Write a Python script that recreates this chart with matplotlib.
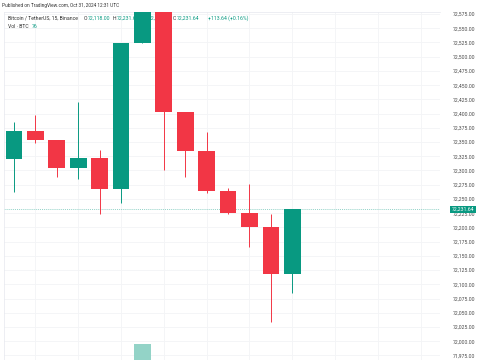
import matplotlib
matplotlib.use("Agg")
import matplotlib.pyplot as plt
import numpy as np

# 15-minute BTC/USDT candles (Binance)
opens  = [72319.6, 72369.4, 72353.0, 72303.8, 72322.0, 72267.0, 72524.0,
          72610.0, 72403.0, 72334.0, 72264.5, 72224.7, 72200.0, 72118.0]
highs  = [72385.0, 72397.5, 72353.0, 72419.8, 72336.0, 72524.0, 72640.0,
          72650.0, 72403.0, 72368.0, 72268.6, 72275.7, 72223.0, 72231.64]
lows   = [72262.7, 72347.7, 72289.0, 72284.5, 72223.0, 72243.4, 72524.0,
          72301.0, 72288.0, 72261.0, 72223.5, 72166.0, 72033.0, 72084.0]
closes = [72369.4, 72353.0, 72303.8, 72322.0, 72267.0, 72524.0, 72610.0,
          72403.0, 72334.0, 72264.5, 72224.7, 72200.0, 72118.0, 72231.64]
volumes = [60, 55, 70, 50, 65, 180, 420, 250, 120, 90, 80, 70, 110, 76]

price_ticks = list(range(71975, 72576, 25))
last_price = 72231.64

GREEN = '#089981'
RED = '#f23645'
GRID = '#f3f4f6'

plt.rcParams['font.family'] = ['Roboto', 'DejaVu Sans']
FS = 3.7

fig = plt.figure(figsize=(4.85, 3.6), dpi=100)
W, H = 485, 360
ax = fig.add_axes([4 / W, 0, 436 / W, 348 / H])

x = np.arange(len(opens))
colors = [GREEN if c >= o else RED for o, c in zip(opens, closes)]

# volume overlay (only the tallest bar reaches the visible area)
vax = ax.twinx()
vol_colors = ['#93d3c7' if c == GREEN else '#f7a9a9' for c in colors]
vax.bar(x, volumes, width=0.78, color=vol_colors, zorder=1)
vlo = 330
vax.set_ylim(vlo, vlo + (max(volumes) - vlo) * 348 / 16)
vax.axis('off')
ax.set_zorder(0)
vax.set_zorder(1)

# header legend (candles are drawn over it)
tr = fig.transFigure
def ftext(px, py, s, color, size=FS):
    ax.text(px / W, 1 - py / H, s, transform=tr, fontsize=size, color=color,
            va='center', ha='left', zorder=1)

ftext(2, 5, 'Published on TradingView.com, Oct 31, 2024 12:31 UTC', '#333333', 3.4)
ftext(8, 18, 'Bitcoin / TetherUS, 15, Binance', '#333333')
ftext(84, 18, 'O', '#333333')
ftext(88, 18, '72,118.00', GREEN)
ftext(113, 18, 'H', '#333333')
ftext(117, 18, '72,231.64', GREEN)
ftext(145, 18, 'L', '#333333')
ftext(149, 18, '72,084.00', GREEN)
ftext(173, 18, 'C', '#333333')
ftext(177, 18, '72,231.64', GREEN)
ftext(208, 18, '+113.64 (+0.16%)', GREEN)
ftext(8, 27, 'Vol \u00b7 BTC', '#333333')
ftext(32, 27, '76', GREEN)

# candles
ax.vlines(x, lows, highs, colors=colors, linewidth=0.7, zorder=3)
bottoms = [min(o, c) for o, c in zip(opens, closes)]
heights = [abs(c - o) for o, c in zip(opens, closes)]
ax.bar(x, heights, bottom=bottoms, width=0.78, color=colors, zorder=4)

# last price line and label
ax.axhline(last_price, color=GREEN, linewidth=0.5, alpha=0.6,
           linestyle=(0, (1.5, 1.5)), zorder=2)
ax.text(1.027, last_price, '72,231.64', transform=ax.get_yaxis_transform(),
        fontsize=FS, color='white', va='center', ha='left', zorder=5, clip_on=False,
        bbox=dict(boxstyle='square,pad=0.25', fc=GREEN, ec='none'))

ax.set_xlim(-0.467, 19.9)
ax.set_ylim(71967, 72578.5)

ax.set_xticks(np.arange(1, 20, 2))
ax.set_xticklabels([])
ax.tick_params(axis='x', length=0)
ax.yaxis.tick_right()
ax.set_yticks(price_ticks)
ax.set_yticklabels([f'{p:,.2f}' for p in price_ticks])
ax.tick_params(axis='y', length=0, labelsize=FS, labelcolor='#4a4a4a', pad=9.4)
ax.grid(True, color=GRID, linewidth=0.6, zorder=0)
ax.set_axisbelow(True)

for side in ['right', 'bottom']:
    ax.spines[side].set_visible(False)
for side in ['top', 'left']:
    ax.spines[side].set_color('#e6e8ee')
    ax.spines[side].set_linewidth(0.5)

fig.savefig('out.png', dpi=100, facecolor='white')
